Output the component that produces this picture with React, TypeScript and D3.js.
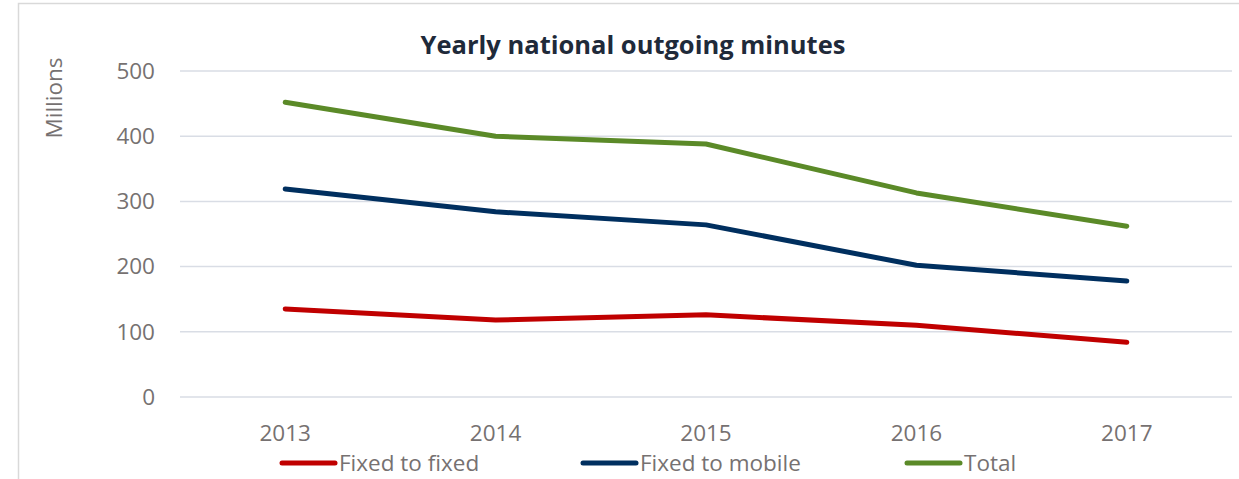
import * as d3 from "d3";
import { useEffect, useRef } from "react";

const years = ["2013", "2014", "2015", "2016", "2017"];
const fixedToFixed = [135, 118, 126, 110, 84];
const fixedToMobile = [319, 284, 264, 202, 178];
const total = [452, 400, 388, 313, 262];
const yTicks = [0, 100, 200, 300, 400, 500];

const series = [
    { name: "Fixed to fixed", values: fixedToFixed, color: "#C00000" },
    { name: "Fixed to mobile", values: fixedToMobile, color: "#002F5F" },
    { name: "Total", values: total, color: "#5B8A28" },
];

const width = 1239;
const height = 479;
const font = "'Open Sans', sans-serif";

export default function App() {
    const ref = useRef<SVGSVGElement>(null);

    useEffect(() => {
        const margin = { top: 71, bottom: 82, left: 180, right: 7 };
        const svg = d3.select(ref.current);
        svg.selectAll("*").remove();

        const x = d3.scaleBand()
            .domain(years)
            .range([margin.left, width - margin.right]);

        const y = d3.scaleLinear()
            .domain([0, 500])
            .range([height - margin.bottom, margin.top]);

        // chart border (top and left visible)
        svg.append("rect")
            .attr("x", 18.5)
            .attr("y", 3.5)
            .attr("width", 1300)
            .attr("height", 600)
            .attr("fill", "#fff")
            .attr("stroke", "#d9d9d9")
            .attr("stroke-width", 1.5);

        // gridlines
        svg.append("g")
            .selectAll("line")
            .data(yTicks)
            .join("line")
            .attr("x1", margin.left)
            .attr("x2", width - margin.right)
            .attr("y1", (d) => y(d))
            .attr("y2", (d) => y(d))
            .attr("stroke", "#d9dde5")
            .attr("stroke-width", 1.5);

        // y tick labels
        svg.append("g")
            .selectAll("text")
            .data(yTicks)
            .join("text")
            .attr("x", 155)
            .attr("y", (d) => y(d))
            .attr("dy", "0.35em")
            .attr("text-anchor", "end")
            .attr("font-family", font)
            .attr("font-size", 22.5)
            .attr("fill", "#767171")
            .text((d) => d);

        // x tick labels
        svg.append("g")
            .selectAll("text")
            .data(years)
            .join("text")
            .attr("x", (d) => (x(d) || 0) + x.bandwidth() / 2)
            .attr("y", 441)
            .attr("text-anchor", "middle")
            .attr("font-family", font)
            .attr("font-size", 22.5)
            .attr("fill", "#767171")
            .text((d) => d);

        // y axis title
        svg.append("text")
            .attr("transform", `translate(62,98) rotate(-90)`)
            .attr("text-anchor", "middle")
            .attr("font-family", font)
            .attr("font-size", 22.5)
            .attr("fill", "#767171")
            .text("Millions");

        // title
        svg.append("text")
            .attr("x", 633)
            .attr("y", 54)
            .attr("text-anchor", "middle")
            .attr("font-family", font)
            .attr("font-weight", "bold")
            .attr("font-size", 25.5)
            .attr("fill", "#1f2a3a")
            .text("Yearly national outgoing minutes");

        const line = d3.line<number>()
            .x((_, i) => (x(years[i]) || 0) + x.bandwidth() / 2)
            .y((d) => y(d));

        svg.append("g")
            .selectAll("path")
            .data(series)
            .join("path")
            .attr("fill", "none")
            .attr("stroke", (d) => d.color)
            .attr("stroke-width", 5)
            .attr("stroke-linecap", "round")
            .attr("stroke-linejoin", "round")
            .attr("d", (d) => line(d.values)!);

        // legend
        const legendX = [280, 581, 905];
        const lg = svg.append("g")
            .selectAll("g")
            .data(series)
            .join("g")
            .attr("transform", (_, i) => `translate(${legendX[i]},463)`);
        lg.append("line")
            .attr("x1", 2)
            .attr("x2", 55)
            .attr("stroke", (d) => d.color)
            .attr("stroke-width", 5)
            .attr("stroke-linecap", "round");
        lg.append("text")
            .attr("x", 59)
            .attr("dy", "0.35em")
            .attr("font-family", font)
            .attr("font-size", 22.5)
            .attr("fill", "#767171")
            .text((d) => d.name);
    }, []);

    return <svg ref={ref} width={width} height={height} style={{ position: "absolute", left: 0, top: 0 }} />;
}
